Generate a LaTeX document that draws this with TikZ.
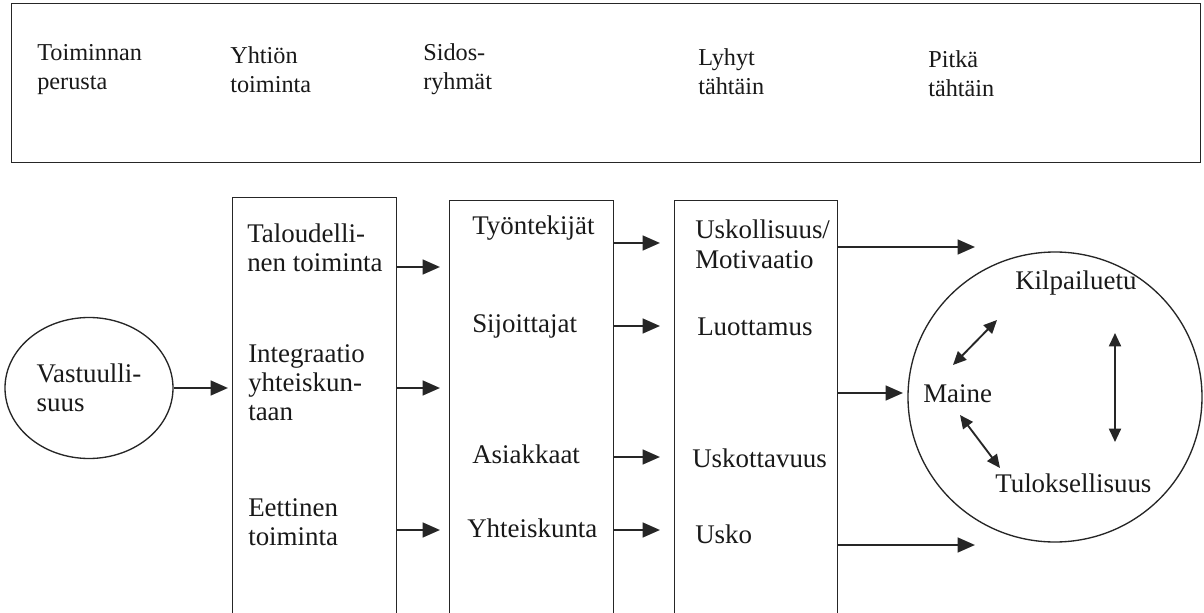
\documentclass[tikz,border=0pt]{standalone}
\usepackage{fontspec}
\setmainfont{Liberation Serif}
\usetikzlibrary{shapes.geometric,arrows.meta}
\tikzset{
  frame/.style={draw=black!85, line width=1pt, rectangle, inner sep=0pt, anchor=north west},
  oval/.style={draw=black!85, line width=1pt, ellipse, inner sep=0pt},
  head/.style={inner sep=0pt, anchor=base west, align=left, text=black!90,
    font=\fontsize{18.2}{21.75}\selectfont},
  lbl/.style={inner sep=0pt, anchor=base west, align=left, text=black!90,
    font=\fontsize{20.2}{21.75}\selectfont},
  flow/.style={draw=black!85, line width=1.8pt, -{Triangle[length=13pt,width=11pt]}},
  link/.style={draw=black!85, line width=1.4pt, {Triangle[length=10pt,width=9pt]}-{Triangle[length=10pt,width=9pt]}}
}
\begin{document}
\begin{tikzpicture}[x=0.75pt,y=-0.75pt]
\useasboundingbox (0,0) rectangle (1204,613);
\clip (0,0) rectangle (1204,613);
\fill[white] (0,0) rectangle (1204,613);

% header band (labels placed by the baseline of their last line)
\node[frame, minimum width=891.75pt, minimum height=119.25pt] (band) at (11,3) {};
\node[head] (h1) at (37,90)  {Toiminnan\\perusta};
\node[head] (h2) at (230,93) {Yhtiön\\toiminta};
\node[head] (h3) at (423,90) {Sidos-\\ryhmät};
\node[head] (h4) at (698,95) {Lyhyt\\tähtäin};
\node[head] (h5) at (928,97) {Pitkä\\tähtäin};

% starting point
\node[oval, minimum width=126pt, minimum height=105.75pt, align=left,
      font=\fontsize{20.2}{21.75}\selectfont, text=black!90] (vast) at (89,388) {Vastuulli-\\suus};

% columns
\node[frame, minimum width=123pt, minimum height=320pt] (col1) at (232,197) {};
\node[frame, minimum width=123pt, minimum height=320pt] (col2) at (449,200) {};
\node[frame, minimum width=122pt, minimum height=320pt] (col3) at (674,200) {};

% outcome circle
\node[oval, minimum width=220.5pt, minimum height=217.5pt] (circ) at (1055,397) {};

% column 1
\node[lbl] (t1) at (247,272) {Taloudelli-\\nen toiminta};
\node[lbl] (t2) at (248,420) {Integraatio\\yhteiskun-\\taan};
\node[lbl] (t3) at (248,545) {Eettinen\\toiminta};

% column 2
\node[lbl] (s1) at (472,235) {Työntekijät};
\node[lbl] (s2) at (472,332) {Sijoittajat};
\node[lbl] (s3) at (472,463) {Asiakkaat};
\node[lbl] (s4) at (467,537) {Yhteiskunta};

% column 3
\node[lbl] (e1) at (695,268) {Uskollisuus/\\Motivaatio};
\node[lbl] (e2) at (697,335) {Luottamus};
\node[lbl] (e3) at (692,467) {Uskottavuus};
\node[lbl] (e4) at (695,543) {Usko};

% circle contents
\node[lbl] (kil) at (1015,290) {Kilpailuetu};
\node[lbl] (mai) at (923,402)  {Maine};
\node[lbl] (tul) at (995,492)  {Tuloksellisuus};

% arrow end points
\coordinate (a0) at (228,388);
\coordinate (a1) at (440,267);
\coordinate (a2) at (440,388);
\coordinate (a3) at (440,530);
\coordinate (b1) at (660,243);
\coordinate (b2) at (660,326);
\coordinate (b3) at (660,457);
\coordinate (b4) at (660,530);
\coordinate (c1) at (975,247);
\coordinate (c2) at (903,393);
\coordinate (c3) at (975,545);

\draw[flow] (vast.east |- a0) -- (a0);
\draw[flow] (col1.east |- a1) -- (a1);
\draw[flow] (col1.east |- a2) -- (a2);
\draw[flow] (col1.east |- a3) -- (a3);
\draw[flow] (col2.east |- b1) -- (b1);
\draw[flow] (col2.east |- b2) -- (b2);
\draw[flow] (col2.east |- b3) -- (b3);
\draw[flow] (col2.east |- b4) -- (b4);
\draw[flow] (col3.east |- c1) -- (c1);
\draw[flow] (col3.east |- c2) -- (c2);
\draw[flow] (col3.east |- c3) -- (c3);

% mutual links inside the circle
\coordinate (m1) at (953,365);
\coordinate (k1) at (997,320);
\coordinate (k2) at (1115,333);
\coordinate (t4) at (1115,442);
\coordinate (m2) at (960,415);
\coordinate (t5) at (1000,468);
\draw[link] (m1) -- (k1);
\draw[link] (k2) -- (t4);
\draw[link] (m2) -- (t5);
\end{tikzpicture}
\end{document}
